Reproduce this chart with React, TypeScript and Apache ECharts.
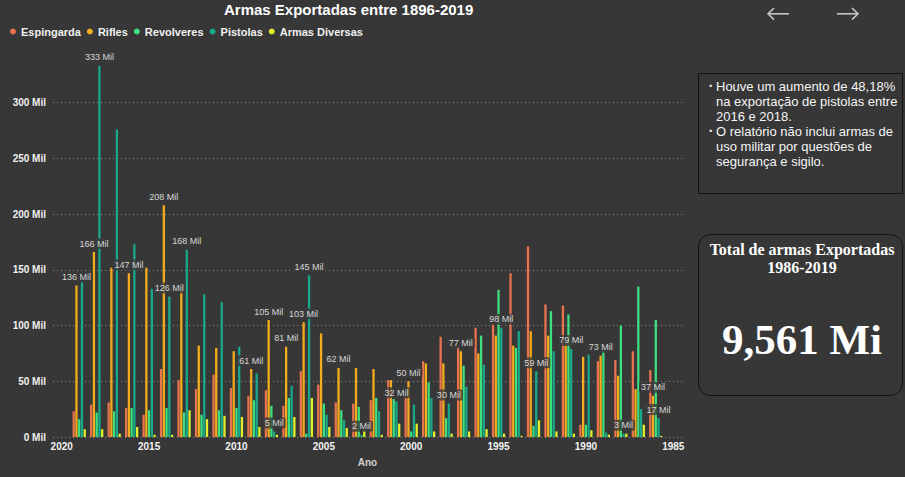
import React, { useEffect, useRef } from "react";
import * as echarts from "echarts";

// ---- Data (years shown on the axis from newest to oldest) ----
const years = [
  2019, 2018, 2017, 2016, 2015, 2014, 2013, 2012, 2011, 2010, 2009, 2008,
  2007, 2006, 2005, 2004, 2003, 2002, 2001, 2000, 1999, 1998, 1997, 1996,
  1995, 1994, 1993, 1992, 1991, 1990, 1989, 1988, 1987, 1986,
];
const axisStartYear = "2020";
const axisEndYear = "1985";

const espingarda = [
  23, 29, 31, 26, 20, 61, 51, 43, 56, 44, 37, 42, 28, 59, 47, 31, 30, 33, 51,
  36, 68, 90, 81, 98, 101, 147, 171, 119, 118, 11, 68, 69, 77, 60,
];
const rifles = [
  136, 166, 152, 147, 152, 208, 131, 82, 80, 77, 61, 105, 81, 103, 93, 62, 62,
  61, 51, 50, 66, 66, 77, 75, 91, 82, 95, 91, 83, 72, 73, 55, 43, 37,
];
const revolveres = [
  16, 22, 23, 26, 24, 26, 22, 20, 24, 26, 33, 28, 35, 3, 30, 24, 27, 35, 34, 5,
  49, 17, 64, 91, 132, 80, 10, 113, 110, 11, 77, 100, 135, 105,
];
const pistolas = [
  139, 333, 276, 173, 133, 126, 168, 128, 121, 81, 57, 5, 46, 145, 20, 15, 2,
  23, 32, 29, 35, 30, 45, 65, 98, 95, 59, 77, 79, 74, 4, 3, 25, 17,
];
const armasDiversas = [
  7, 7, 3, 9, 2, 2, 24, 16, 19, 18, 9, 2, 18, 35, 9, 8, 6, 2, 12, 12, 5, 3, 5,
  7, 3, 1, 15, 5, 3, 6, 2, 3, 11, 1,
];

const riflesLabelYears = [2019, 2018, 2016, 2014, 2009, 2008, 2007, 2006, 2004, 2000, 1997, 1989, 1986];
const pistolasLabelYears = [2018, 2014, 2013, 2008, 2006, 2003, 2001, 1998, 1995, 1993, 1991, 1988, 1986];

const seriesNames = ["Espingarda", "Rifles", "Revolveres", "Pistolas", "Armas Diversas"];
const seriesColors = ["#E9734F", "#F3AC1C", "#3DDF7F", "#17A98A", "#E3EE2A"];

const yMax = 350;
const yInterval = 50;

const chartTitle = "Armas Exportadas entre 1896-2019";
const xAxisName = "Ano";
const notesLines = [
  { bullet: true, text: "Houve um aumento de 48,18%" },
  { bullet: false, text: "na exportação de pistolas entre" },
  { bullet: false, text: "2016 e 2018." },
  { bullet: true, text: "O relatório não inclui armas de" },
  { bullet: false, text: "uso militar por questões de" },
  { bullet: false, text: "segurança e sigilo." },
];
const kpiTitleLines = ["Total de armas Exportadas", "1986-2019"];
const kpiValue = "9,561 Mi";

const BG = "#373737";
const SANS = "'Liberation Sans', Arial, sans-serif";
const SERIF = "'Liberation Serif', 'Times New Roman', serif";

function buildSeriesData(values: number[], labelYears: number[]) {
  const items = values.map((v, i) =>
    labelYears.includes(years[i]) ? { value: v, label: { show: true } } : v
  );
  return [null, ...items, null];
}

export default function App() {
  const ref = useRef<HTMLDivElement>(null);

  useEffect(() => {
    document.body.style.margin = "0";
    if (!ref.current) return;
    const chart = echarts.init(ref.current, undefined, { renderer: "svg" });

    const categories = [axisStartYear, ...years.map(String), axisEndYear];
    const valueSets = [espingarda, rifles, revolveres, pistolas, armasDiversas];
    const labelSets = [[], riflesLabelYears, [], pistolasLabelYears, []];

    const series = seriesNames.map((name, idx) => ({
      name,
      type: "bar",
      data: buildSeriesData(valueSets[idx], labelSets[idx] as number[]),
      itemStyle: { color: seriesColors[idx] },
      barGap: "20%",
      barCategoryGap: "24%",
      label: {
        show: false,
        position: "top",
        distance: 3,
        formatter: "{c} Mil",
        color: "#d6d6d6",
        fontSize: 9,
        fontFamily: SANS,
        backgroundColor: "rgba(58,58,58,0.78)",
        padding: [1, 2],
        borderRadius: 2,
      },
    }));

    const graphics: any[] = [];
    // navigation arrows
    const arrowStyle = { stroke: "#c4c4c4", lineWidth: 1.6, fill: "none" };
    graphics.push(
      { type: "polyline", shape: { points: [[768, 13.8], [789, 13.8]] }, style: arrowStyle },
      { type: "polyline", shape: { points: [[774, 8], [768, 13.8], [774, 19.6]] }, style: arrowStyle },
      { type: "polyline", shape: { points: [[837, 13.8], [858, 13.8]] }, style: arrowStyle },
      { type: "polyline", shape: { points: [[852, 8], [858, 13.8], [852, 19.6]] }, style: arrowStyle }
    );
    // notes box
    graphics.push({
      type: "rect",
      shape: { x: 698.5, y: 73.5, width: 204, height: 120 },
      style: { fill: "none", stroke: "#141414", lineWidth: 1 },
    });
    notesLines.forEach((ln, i) => {
      const y = 86 + i * 15.1;
      if (ln.bullet) {
        graphics.push({
          type: "text",
          x: 711,
          y,
          style: {
            text: "·",
            fill: "#f2f2f2",
            font: `bold 14px ${SANS}`,
            textAlign: "center",
            textVerticalAlign: "middle",
          },
        });
      }
      graphics.push({
        type: "text",
        x: 716,
        y,
        style: {
          text: ln.text,
          fill: "#f5f5f5",
          font: `13px ${SANS}`,
          textAlign: "left",
          textVerticalAlign: "middle",
        },
      });
    });
    // KPI card
    graphics.push({
      type: "rect",
      shape: { x: 698.5, y: 234.5, width: 204, height: 161, r: 12 },
      style: { fill: "none", stroke: "#141414", lineWidth: 1 },
    });
    kpiTitleLines.forEach((t, i) => {
      graphics.push({
        type: "text",
        x: 802,
        y: 249.5 + i * 18,
        style: {
          text: t,
          fill: "#ffffff",
          font: `bold 16px ${SERIF}`,
          textAlign: "center",
          textVerticalAlign: "middle",
        },
      });
    });
    graphics.push({
      type: "text",
      x: 802,
      y: 339,
      style: {
        text: kpiValue,
        fill: "#ffffff",
        font: `bold 43px ${SERIF}`,
        textAlign: "center",
        textVerticalAlign: "middle",
      },
    });

    chart.setOption({
      animation: false,
      backgroundColor: BG,
      title: {
        text: chartTitle,
        left: 224,
        top: 2,
        padding: 0,
        textStyle: { color: "#ffffff", fontSize: 15, fontWeight: "bold", fontFamily: SANS },
      },
      legend: {
        data: seriesNames,
        left: 10,
        top: 26,
        padding: 0,
        icon: "circle",
        itemWidth: 6,
        itemHeight: 6,
        itemGap: 6,
        textStyle: { color: "#f0f0f0", fontSize: 11, fontWeight: "bold", fontFamily: SANS },
      },
      grid: { left: 53, right: 223, top: 47, bottom: 40, containLabel: false },
      xAxis: {
        type: "category",
        data: categories,
        name: xAxisName,
        nameLocation: "middle",
        nameGap: 20,
        nameTextStyle: { color: "#cfcfcf", fontSize: 10, fontWeight: "bold", fontFamily: SANS },
        axisLine: { show: false },
        axisTick: { show: false },
        axisLabel: {
          interval: 4,
          color: "#f2f2f2",
          fontSize: 10,
          fontWeight: "bold",
          fontFamily: SANS,
          margin: 4,
        },
        splitLine: { show: false },
      },
      yAxis: {
        type: "value",
        min: 0,
        max: yMax,
        interval: yInterval,
        axisLine: { show: false },
        axisTick: { show: false },
        axisLabel: {
          formatter: "{value} Mil",
          color: "#f0f0f0",
          fontSize: 10,
          fontWeight: "bold",
          fontFamily: SANS,
          margin: 7,
          showMaxLabel: false,
        },
        splitLine: {
          show: true,
          showMaxLine: false,
          lineStyle: { color: "#8a8a8a", type: [1, 3], width: 1 },
        },
      },
      series,
      graphic: graphics,
    });

    return () => chart.dispose();
  }, []);

  return (
    <div
      ref={ref}
      style={{ position: "absolute", left: 0, top: 0, width: 905, height: 477, background: BG }}
    />
  );
}
